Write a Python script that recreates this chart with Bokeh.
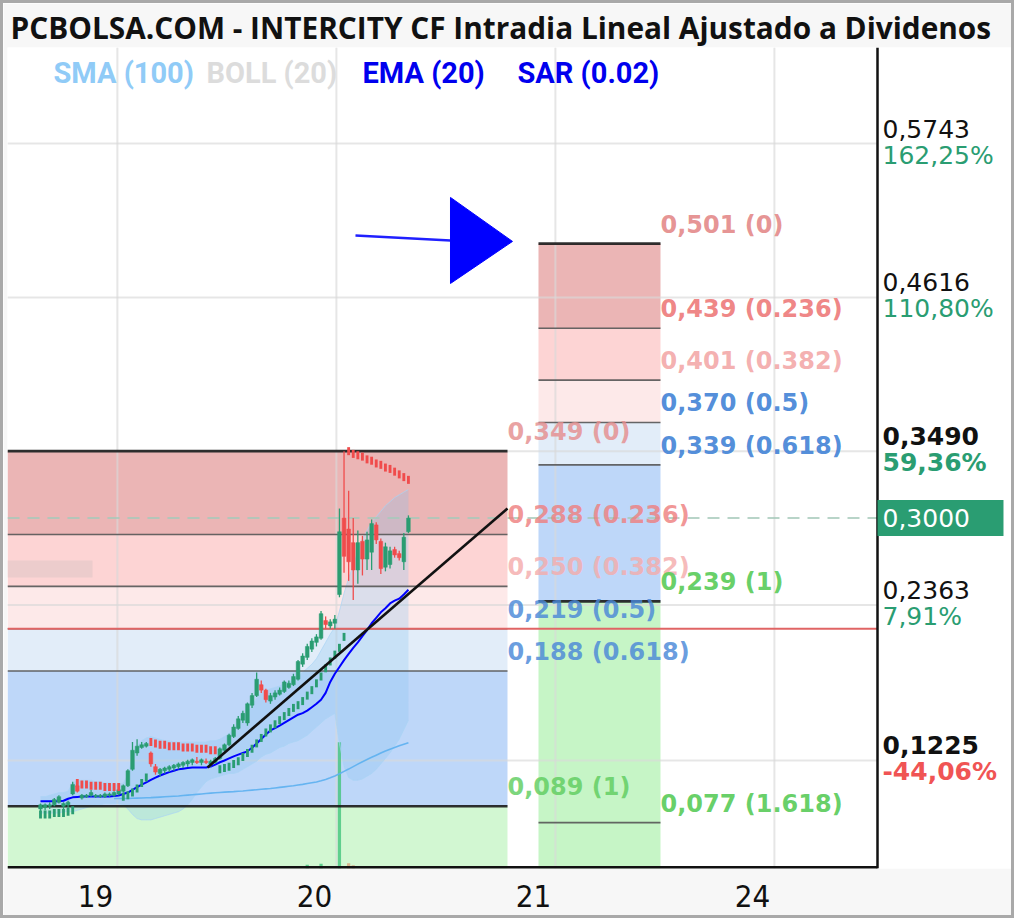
import math
from bokeh.plotting import figure
from bokeh.models import Range1d, FixedTicker, ColumnDataSource
from bokeh.core.properties import value
from bokeh.embed import file_html
from bokeh.resources import INLINE

# ---------------- data ----------------
title_text = "PCBOLSA.COM - INTERCITY CF Intradia Lineal Ajustado a Dividenos"

opens = [0.087, 0.088, 0.089, 0.090, 0.092, 0.089, 0.090, 0.098, 0.104, 0.095,
         0.096, 0.097, 0.096, 0.096, 0.096, 0.097, 0.097, 0.098, 0.100, 0.104,
         0.116, 0.128, 0.132, 0.133, 0.128, 0.118, 0.113, 0.115, 0.116, 0.117,
         0.118, 0.119, 0.120, 0.121, 0.122, 0.121, 0.122, 0.120, 0.121, 0.124,
         0.130, 0.134, 0.140, 0.146, 0.152, 0.150, 0.163, 0.170, 0.178, 0.174,
         0.166, 0.169, 0.171, 0.173, 0.176, 0.178, 0.182, 0.193, 0.198, 0.204,
         0.209, 0.212, 0.225, 0.221, 0.223, 0.244, 0.300, 0.292, 0.282, 0.262,
         0.283, 0.270, 0.275, 0.295, 0.283, 0.264, 0.266, 0.277, 0.274, 0.268,
         0.290]
highs = [0.091, 0.091, 0.092, 0.095, 0.097, 0.092, 0.093, 0.107, 0.106, 0.098,
         0.098, 0.101, 0.098, 0.098, 0.099, 0.099, 0.100, 0.102, 0.105, 0.116,
         0.136, 0.138, 0.136, 0.136, 0.129, 0.120, 0.117, 0.118, 0.119, 0.120,
         0.121, 0.122, 0.123, 0.124, 0.125, 0.124, 0.124, 0.123, 0.125, 0.132,
         0.135, 0.142, 0.149, 0.155, 0.159, 0.165, 0.172, 0.187, 0.181, 0.175,
         0.172, 0.174, 0.176, 0.181, 0.181, 0.186, 0.196, 0.201, 0.208, 0.212,
         0.215, 0.232, 0.228, 0.226, 0.229, 0.307, 0.349, 0.320, 0.300, 0.291,
         0.287, 0.290, 0.299, 0.297, 0.285, 0.282, 0.279, 0.279, 0.276, 0.289,
         0.302]
lows = [0.085, 0.086, 0.087, 0.089, 0.091, 0.087, 0.088, 0.097, 0.099, 0.094,
        0.095, 0.096, 0.095, 0.095, 0.095, 0.096, 0.096, 0.097, 0.099, 0.103,
        0.115, 0.126, 0.131, 0.132, 0.118, 0.112, 0.111, 0.113, 0.114, 0.115,
        0.116, 0.117, 0.118, 0.119, 0.120, 0.119, 0.120, 0.118, 0.120, 0.123,
        0.129, 0.133, 0.139, 0.145, 0.150, 0.148, 0.161, 0.169, 0.172, 0.165,
        0.164, 0.167, 0.170, 0.172, 0.175, 0.177, 0.181, 0.191, 0.196, 0.202,
        0.206, 0.211, 0.219, 0.219, 0.219, 0.242, 0.260, 0.254, 0.240, 0.252,
        0.258, 0.262, 0.262, 0.281, 0.259, 0.261, 0.263, 0.271, 0.269, 0.262,
        0.289]
closes = [0.090, 0.090, 0.090, 0.094, 0.096, 0.091, 0.092, 0.105, 0.100, 0.097,
          0.097, 0.099, 0.097, 0.097, 0.098, 0.098, 0.099, 0.101, 0.104, 0.115,
          0.130, 0.133, 0.134, 0.135, 0.120, 0.114, 0.116, 0.117, 0.118, 0.119,
          0.120, 0.121, 0.122, 0.123, 0.121, 0.123, 0.121, 0.122, 0.124, 0.131,
          0.134, 0.141, 0.147, 0.153, 0.157, 0.164, 0.170, 0.182, 0.174, 0.167,
          0.170, 0.172, 0.174, 0.180, 0.179, 0.184, 0.195, 0.199, 0.206, 0.210,
          0.213, 0.230, 0.222, 0.224, 0.226, 0.290, 0.272, 0.268, 0.262, 0.282,
          0.270, 0.284, 0.296, 0.284, 0.263, 0.279, 0.276, 0.273, 0.271, 0.286,
          0.300]

# Parabolic SAR (0.02) and whether the dot sits above price
sar = [0.083, 0.083, 0.083, 0.084, 0.084, 0.084, 0.085, 0.086, 0.106, 0.105,
       0.105, 0.104, 0.104, 0.104, 0.103, 0.103, 0.103, 0.103, 0.096, 0.097,
       0.099, 0.102, 0.106, 0.110, 0.136, 0.135, 0.134, 0.134, 0.133, 0.133,
       0.133, 0.132, 0.132, 0.132, 0.131, 0.131, 0.131, 0.130, 0.130, 0.116,
       0.117, 0.118, 0.120, 0.122, 0.125, 0.128, 0.131, 0.135, 0.139, 0.143,
       0.146, 0.149, 0.152, 0.155, 0.158, 0.161, 0.163, 0.166, 0.170, 0.174,
       0.179, 0.184, 0.190, 0.195, 0.200, 0.205, 0.213, 0.349, 0.347, 0.346,
       0.345, 0.343, 0.342, 0.340, 0.339, 0.337, 0.336, 0.334, 0.332, 0.330,
       0.328]
sar_above = [0] * 8 + [1] * 10 + [0] * 6 + [1] * 15 + [0] * 28 + [1] * 14

ema20 = [0.0926, 0.0926, 0.0926, 0.0926, 0.0926, 0.0930, 0.0945, 0.0955, 0.0958, 0.0961,
         0.0961, 0.0961, 0.0961, 0.0961, 0.0961, 0.0962, 0.0965, 0.0969, 0.0980, 0.0990,
         0.1010, 0.1030, 0.1048, 0.1065, 0.1083, 0.1100, 0.1115, 0.1128, 0.1140, 0.1150,
         0.1160, 0.1165, 0.1170, 0.1173, 0.1174, 0.1174, 0.1174, 0.1180, 0.1195, 0.1212,
         0.1225, 0.1240, 0.1255, 0.1268, 0.1280, 0.1292, 0.1318, 0.1350, 0.1382, 0.1415,
         0.1445, 0.1462, 0.1480, 0.1500, 0.1520, 0.1540, 0.1560, 0.1572, 0.1590, 0.1615,
         0.1640, 0.1670, 0.1720, 0.1800, 0.1860, 0.1910, 0.1960, 0.2005, 0.2050, 0.2090,
         0.2135, 0.2180, 0.2230, 0.2270, 0.2310, 0.2340, 0.2375, 0.2395, 0.2410, 0.2440,
         0.2475]

sma100 = [math.nan] * 16 + [
    0.0947, 0.0947, 0.0947, 0.0947, 0.0948, 0.0949, 0.0950, 0.0952, 0.0953, 0.0955,
    0.0957, 0.0959, 0.0961, 0.0963, 0.0965, 0.0968, 0.0971, 0.0974, 0.0977, 0.0980,
    0.0983, 0.0986, 0.0989, 0.0991, 0.0993, 0.0995, 0.0997, 0.1000, 0.1002, 0.1005,
    0.1008, 0.1011, 0.1014, 0.1017, 0.1020, 0.1024, 0.1028, 0.1032, 0.1036, 0.1040,
    0.1045, 0.1050, 0.1056, 0.1062, 0.1068, 0.1076, 0.1086, 0.1098, 0.1112, 0.1128,
    0.1145, 0.1162, 0.1180, 0.1198, 0.1216, 0.1232, 0.1248, 0.1264, 0.1280, 0.1295,
    0.1308, 0.1320, 0.1332, 0.1344, 0.1355]

boll_upper = [0.096, 0.096, 0.097, 0.098, 0.099, 0.099, 0.100, 0.106, 0.108, 0.108,
              0.108, 0.108, 0.107, 0.107, 0.106, 0.106, 0.105, 0.105, 0.106, 0.112,
              0.125, 0.133, 0.137, 0.139, 0.140, 0.139, 0.138, 0.137, 0.137, 0.136,
              0.136, 0.136, 0.136, 0.136, 0.136, 0.136, 0.136, 0.137, 0.137, 0.138,
              0.140, 0.142, 0.146, 0.150, 0.154, 0.158, 0.162, 0.168, 0.172, 0.174,
              0.175, 0.176, 0.177, 0.179, 0.180, 0.181, 0.184, 0.187, 0.190, 0.193,
              0.197, 0.203, 0.209, 0.215, 0.220, 0.232, 0.245, 0.256, 0.265, 0.276,
              0.285, 0.291, 0.297, 0.301, 0.305, 0.309, 0.312, 0.315, 0.317, 0.319,
              0.321]
boll_lower = [0.084, 0.084, 0.084, 0.084, 0.084, 0.085, 0.085, 0.085, 0.086, 0.087,
              0.088, 0.089, 0.090, 0.090, 0.091, 0.091, 0.091, 0.091, 0.090, 0.087,
              0.083, 0.080, 0.079, 0.079, 0.079, 0.080, 0.081, 0.082, 0.083, 0.084,
              0.085, 0.087, 0.090, 0.094, 0.099, 0.103, 0.107, 0.109, 0.110, 0.111,
              0.112, 0.113, 0.113, 0.114, 0.116, 0.118, 0.120, 0.122, 0.125, 0.127,
              0.128, 0.130, 0.132, 0.133, 0.135, 0.136, 0.137, 0.139, 0.141, 0.144,
              0.147, 0.150, 0.153, 0.155, 0.157, 0.135, 0.118, 0.110, 0.108, 0.108,
              0.109, 0.111, 0.113, 0.116, 0.120, 0.124, 0.128, 0.133, 0.138, 0.145,
              0.152]

volume = [0] * 58 + [35000, 0, 0, 45000, 0, 0, 0, 1200000, 0, 50000, 30000] + [0] * 12

day_labels = {0: "19", 1: "20", 2: "21", 3: "24"}
price_ticks = [0.5743, 0.4616, 0.3490, 0.2363, 0.1225]
price_tick_text = ["0,5743", "0,4616", "0,3490", "0,2363", "0,1225"]
pct_text = ["162,25%", "110,80%", "59,36%", "7,91%", "-44,06%"]
tick_bold = [False, False, True, False, True]
pct_color = ["#2a9d72", "#2a9d72", "#2a9d72", "#2a9d72", "#f05454"]
prev_close = 0.219
last_price = 0.300
last_price_text = "0,3000"

fib_a_levels = [0.349, 0.288, 0.250, 0.219, 0.188, 0.089]
fib_a_ratios = ["0", "0.236", "0.382", "0.5", "0.618", "1"]
fib_b_levels = [0.501, 0.439, 0.401, 0.370, 0.339, 0.239, 0.077]
fib_b_ratios = ["0", "0.236", "0.382", "0.5", "0.618", "1", "1.618"]

# drawing-tool anchors (x in trading-day units, y in price)
fib_a_x = (-0.4018, 1.8813)
fib_b_x = (2.0228, 2.5799)
trend_x = [0.5114, 1.8813]
trend_y = [0.1174, 0.3070]
arrow_shaft_x = [1.1872, 1.6210]
arrow_shaft_y = [0.5069, 0.5033]
arrow_head_x = [1.6210, 1.6210, 1.9041]
arrow_head_y = [0.5348, 0.4718, 0.5026]

legend_items = [("SMA (100)", "#90cbf7", -0.1918),
                ("BOLL (20)", "#dcdcdc", 0.5068),
                ("EMA (20)", "#0000ee", 1.2192),
                ("SAR (0.02)", "#0000ee", 1.9269)]

# ---------------- layout constants ----------------
x_start, x_end = -0.4018, 4.1918
y_start, y_end = 0.0434, 0.6446
axis_x = 3.5708        # right price axis
label_x = 3.5936
bar_x0, bar_step = -0.2511, 0.021

n = len(closes)
t = [bar_x0 + i * bar_step for i in range(n)]

UP, DOWN = "#2a9d72", "#f04c4c"
NARROW = "'Liberation Sans Narrow', 'DejaVu Sans Condensed', 'Roboto Condensed', Roboto, sans-serif"

p = figure(width=1014, height=918, title=title_text,
           x_range=Range1d(x_start, x_end), y_range=Range1d(y_start, y_end),
           output_backend="svg", toolbar_location=None, y_axis_location=None,
           min_border_left=4, min_border_right=4, min_border_top=44, min_border_bottom=53,
           background_fill_color="white", border_fill_color="#f7f7f7",
           styles={"border": "3px solid #a9a9a9"})
p.outline_line_color = None
p.xgrid.visible = False
p.ygrid.visible = False
p.extra_y_ranges = {"vol": Range1d(0, 7_800_000)}

p.title.text_font = "Open Sans"
p.title.text_font_style = "bold"
p.title.text_font_size = "29.8px"
p.title.text_color = "#111111"
p.title.align = "left"
p.title.offset = 3
p.title.standoff = 0

ax = p.xaxis[0]
ax.ticker = FixedTicker(ticks=list(day_labels.keys()))
ax.major_label_overrides = day_labels
ax.axis_line_color = None
ax.major_tick_line_color = None
ax.minor_tick_line_color = None
ax.major_label_standoff = 10
ax.major_label_text_font = NARROW
ax.major_label_text_font_size = "31px"
ax.major_label_text_color = "#111111"

# ---- Fibonacci zones ----
band_a_colors = ["#ebb5b5", "#fdd4d4", "#fde9e9", "#e2edf9", "#bed7f9", "#d2f7d2"]
band_b_colors = ["#ebb5b5", "#fdd4d4", "#fde9e9", "#e2edf9", "#bed7f9", "#c6f5c6", "#c6f5c6"]


def fib_bands(levels, xs, colors):
    tops = levels[:]
    bottoms = levels[1:] + [y_start]
    p.quad(left=xs[0], right=xs[1], top=tops, bottom=bottoms, fill_color=colors,
           line_color=None)


fib_bands(fib_a_levels, fib_a_x, band_a_colors)
fib_bands(fib_b_levels, fib_b_x, band_b_colors)

# faint box left in the 0.382 zone
p.quad(left=x_start, right=-0.0137, top=0.2690, bottom=0.2565,
       fill_color="#d8c4c4", fill_alpha=0.45, line_color=None)

# ---- grid ----
grid_y = price_ticks
p.segment(x0=x_start, x1=axis_x, y0=grid_y, y1=grid_y, line_color="#d9d9d9",
          line_width=2, line_alpha=0.65)
grid_x = [k + 0.1 for k in day_labels.keys()]
p.segment(x0=grid_x, x1=grid_x, y0=y_start, y1=y_end, line_color="#d9d9d9",
          line_width=2, line_alpha=0.65)

# ---- volume ----
vol_colors = ["#42c47c" if c >= o else "#d8a47c" for o, c in zip(opens, closes)]
p.vbar(x=t, top=volume, bottom=0, width=bar_step * 0.7, fill_color=vol_colors,
       fill_alpha=0.8, line_color=None, y_range_name="vol")

# ---- Bollinger bands ----
p.varea(x=t, y1=boll_lower, y2=boll_upper, fill_color="#86c2f0", fill_alpha=0.28)
p.line(t, boll_upper, line_color="#a9d4f5", line_width=1, line_alpha=0.7)
p.line(t, boll_lower, line_color="#a9d4f5", line_width=1, line_alpha=0.7)

# ---- SMA 100 ----
p.line(t, sma100, line_color="#5cb0f0", line_width=1.6, line_alpha=0.9)

# ---- Fibonacci level lines ----
def fib_lines(levels, xs):
    last = len(levels) - 1
    cols, widths = [], []
    for k, lv in enumerate(levels):
        key = k == 0 or (k == last and len(levels) == 6) or (len(levels) == 7 and k == 5)
        cols.append("#1a1a1a" if key else "#555555")
        widths.append(2.6 if key else 1.6)
    p.segment(x0=xs[0], x1=xs[1], y0=levels, y1=levels, line_color=cols,
              line_width=widths, line_alpha=0.9)


fib_lines(fib_a_levels, fib_a_x)
fib_lines(fib_b_levels, fib_b_x)

# previous close and last price
p.segment(x0=x_start, x1=axis_x, y0=prev_close, y1=prev_close, line_color="#e06464",
          line_width=2)
p.segment(x0=x_start, x1=axis_x, y0=last_price, y1=last_price, line_color="#a6c9ba",
          line_width=2, line_alpha=0.8, line_dash="12 8")

# ---- EMA 20 ----
p.line(t, ema20, line_color="#0000ff", line_width=2)

# ---- candles ----
colors = [UP if c >= o else DOWN for o, c in zip(opens, closes)]
src = ColumnDataSource(dict(t=t, o=opens, h=highs, l=lows, c=closes,
                            top=[max(o, c) for o, c in zip(opens, closes)],
                            bot=[min(o, c) for o, c in zip(opens, closes)],
                            col=colors))
p.segment(x0="t", x1="t", y0="l", y1="h", line_color="col", line_width=1.3, source=src)
p.vbar(x="t", top="top", bottom="bot", width=bar_step * 0.8, fill_color="col",
       line_color="col", line_width=0.5, source=src)

# ---- SAR ----
sar_colors = [DOWN if a else UP for a in sar_above]
p.rect(x=t, y=sar, width=bar_step * 0.62, height=8, height_units="screen",
       fill_color=sar_colors, line_color=None)

# ---- trend line & arrow ----
p.line(trend_x, trend_y, line_color="#111111", line_width=2.6)
p.line(arrow_shaft_x, arrow_shaft_y, line_color="#2020ff", line_width=2.5)
p.patch(arrow_head_x, arrow_head_y, fill_color="#0000ff", line_color="#0000ff")

# ---- Fibonacci labels ----
ratio_color = {"0": "#e58e8e", "0.236": "#ee8080", "0.382": "#f4acac",
               "0.5": "#4a88d8", "0.618": "#4a88d8", "1": "#5fcd5f", "1.618": "#5fcd5f"}


def fib_labels(levels, ratios, xr, alpha):
    txt = [f"{lv:.3f}".replace(".", ",") + f" ({r})" for lv, r in zip(levels, ratios)]
    p.text(x=xr, y=levels, text=txt, text_color=[ratio_color[r] for r in ratios],
           text_alpha=alpha, text_font=value("DejaVu Sans"), text_font_style="bold",
           text_font_size="24px", text_baseline="bottom", text_align="left", y_offset=-5)


fib_labels(fib_a_levels, fib_a_ratios, fib_a_x[1], 0.82)
fib_labels(fib_b_levels, fib_b_ratios, fib_b_x[1], 0.95)

# ---- indicator legend ----
for name, col, lx in legend_items:
    p.text(x=[lx], y=[0.6256], text=[name], text_color=col, text_font=value("Roboto"),
           text_font_style="bold", text_font_size="29px", text_baseline="middle",
           text_align="left")

# ---- right price scale ----
p.segment(x0=x_start, x1=axis_x, y0=y_start, y1=y_start, line_color="#111111", line_width=5)
p.segment(x0=axis_x, x1=axis_x, y0=y_start, y1=y_end, line_color="#111111", line_width=2.5)

for v, s, pc, b, pcol in zip(price_ticks, price_tick_text, pct_text, tick_bold, pct_color):
    style = "bold" if b else "normal"
    p.text(x=[label_x], y=[v], text=[s], text_color="#111111", text_font=value("DejaVu Sans"),
           text_font_style=style, text_font_size="25px", text_baseline="bottom",
           text_align="left", y_offset=-6)
    p.text(x=[label_x], y=[v], text=[pc], text_color=pcol, text_font=value("DejaVu Sans"),
           text_font_style=style, text_font_size="25px", text_baseline="top",
           text_align="left", y_offset=-3)

p.rect(x=[3.8584], y=[last_price], width=126, height=36, width_units="screen",
       height_units="screen", fill_color="#2a9d72", line_color=None)
p.text(x=[label_x], y=[last_price], text=[last_price_text], text_color="white",
       text_font=value("DejaVu Sans"), text_font_size="25px", text_baseline="middle",
       text_align="left")

open("out.html", "w").write(file_html(p, INLINE))
